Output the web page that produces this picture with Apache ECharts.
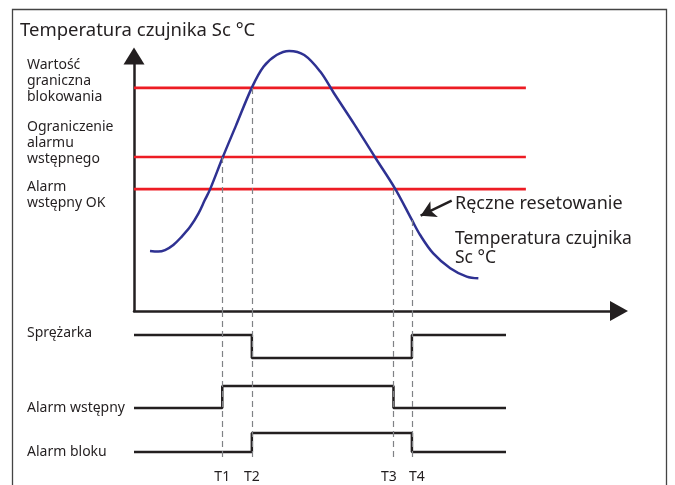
<!DOCTYPE html>
<html>
<head>
<meta charset="utf-8">
<script src="https://cdn.jsdelivr.net/npm/echarts@6/dist/echarts.min.js"></script>
<style>
  html, body { margin: 0; padding: 0; background: #fff; }
  #chart { width: 675px; height: 485px; }
</style>
</head>
<body>
<div id="chart"></div>
<script>
// czas 0..100 (os x), temperatura 0..100 (os y)
var curveTime = [3.3, 5.0, 6.4, 8.1, 9.8, 11.6, 13.3, 14.6, 15.7, 18.3, 21.0, 24.3, 26.7, 29.4, 32.0, 35.1, 38.4, 41.2, 45.4, 49.7, 53.8, 57.3, 59.0, 61.7, 65.2, 68.6, 71.0];
var curveTemp = [23.5, 23.3, 23.9, 25.9, 29.1, 33.1, 38.3, 43.5, 47.8, 60.3, 72.6, 87.6, 95.8, 100.4, 102.0, 100.4, 93.9, 85.5, 73.3, 60.3, 48.1, 35.7, 29.8, 22.6, 16.8, 13.5, 12.8];

var limitNames = ['Wartość\ngraniczna\nblokowania', 'Ograniczenie\nalarmu\nwstępnego', 'Alarm\nwstępny OK'];
var limitTemp = [87.5, 60.4, 47.8];
var limitEnd = 80.8;

var tickLabels = ['T1', 'T2', 'T3', 'T4'];
var tickTimes = [18.2, 24.3, 53.5, 57.3];
var tickFromTemp = [60.4, 87.5, 47.8, 35.7];

var signalNames = ['Sprężarka', 'Alarm wstępny', 'Alarm bloku'];
var signalEdges = [[24.3, 57.3], [18.2, 53.5], [24.3, 57.3]];
var signalStates = [[1, 0, 1], [0, 1, 0], [0, 1, 0]];
var signalLow = [10.2, 5.2, 0.8];
var signalHigh = [12.5, 7.4, 2.7];
var signalEnd = 76.7;

var ink = '#231f20';
var font = '"Noto Sans", sans-serif';

var chart = echarts.init(document.getElementById('chart'));

var curveData = curveTime.map(function (t, i) { return [t, curveTemp[i]]; });

var series = [];

limitTemp.forEach(function (v, i) {
  series.push({
    type: 'line', xAxisIndex: 0, yAxisIndex: 0, silent: true,
    symbol: 'none', data: [[0, v], [limitEnd, v]],
    lineStyle: { color: '#ed1c24', width: 2.6 }, z: 2
  });
});

series.push({
  type: 'line', xAxisIndex: 0, yAxisIndex: 0, silent: true,
  symbol: 'none', smooth: 0.35, clip: false, data: curveData,
  lineStyle: { color: '#2e3192', width: 2.5 }, z: 4,
  markLine: {
    silent: true, symbol: ['none', 'none'],
    lineStyle: { color: '#808285', width: 1.2, type: [6, 4] },
    label: { show: false },
    data: tickTimes.map(function (t, i) {
      return [{ coord: [t, tickFromTemp[i]] }, { coord: [t, 0] }];
    })
  }
});

// strzałka "Ręczne resetowanie"
series.push({
  type: 'line', xAxisIndex: 0, yAxisIndex: 0, silent: true, symbol: 'none', data: [],
  markLine: {
    silent: true, symbol: ['none', 'arrow'], symbolSize: [13, 15],
    lineStyle: { color: ink, width: 2.5, type: 'solid' },
    label: { show: false },
    data: [[{ coord: [65.5, 43.3] }, { coord: [59.1, 37.4] }]]
  }
});

signalNames.forEach(function (name, i) {
  var lvl = function (s) { return s ? signalHigh[i] : signalLow[i]; };
  var st = signalStates[i];
  var ed = signalEdges[i];
  series.push({
    type: 'line', xAxisIndex: 1, yAxisIndex: 1, silent: true, symbol: 'none', step: 'end',
    data: [[0, lvl(st[0])], [ed[0], lvl(st[1])], [ed[1], lvl(st[2])], [signalEnd, lvl(st[2])]],
    lineStyle: { color: ink, width: 2.5 }, z: 3
  });
});

series.push({
  type: 'line', xAxisIndex: 1, yAxisIndex: 1, silent: true, symbol: 'none', data: [],
  markLine: {
    silent: true, symbol: ['none', 'none'],
    lineStyle: { color: '#808285', width: 1.2, type: [6, 4] },
    label: { show: false },
    data: tickTimes.map(function (t) {
      return [{ coord: [t, 14.9] }, { coord: [t, 0] }];
    })
  }
});

var graphics = [
  { type: 'rect', shape: { x: 12.5, y: 9.5, width: 654, height: 500 },
    style: { fill: 'none', stroke: '#444', lineWidth: 1.3 }, z: 10 },
  { type: 'text', x: 20, y: 31, style: { text: 'Temperatura czujnika Sc °C', font: '18.5px ' + font, fill: ink, verticalAlign: 'middle' } },
  { type: 'text', x: 455, y: 204, style: { text: 'Ręczne resetowanie', font: '18px ' + font, fill: ink, verticalAlign: 'middle' } },
  { type: 'text', x: 455, y: 230, style: { text: 'Temperatura czujnika\nSc °C', font: '17.5px ' + font, fill: ink, verticalAlign: 'top', lineHeight: 19 } }
];
var limitTops = [57, 119, 179];
limitNames.forEach(function (n, i) {
  graphics.push({ type: 'text', x: 27, y: limitTops[i], style: { text: n, font: '14px ' + font, fill: ink, verticalAlign: 'top', lineHeight: 16 } });
});
var signalLabelY = [333, 408, 452];
signalNames.forEach(function (n, i) {
  graphics.push({ type: 'text', x: 27, y: signalLabelY[i], style: { text: n, font: '14px ' + font, fill: ink, verticalAlign: 'middle' } });
});

var hiddenAxis = { axisLine: { show: false }, axisTick: { show: false }, axisLabel: { show: false }, splitLine: { show: false } };
var tickRich = ['c', 'c', 'l', 'r'];

var option = {
  backgroundColor: '#fff',
  animation: false,
  grid: [
    { left: 134, top: 56, width: 485, height: 255, outerBoundsMode: 'none' },
    { left: 134, top: 311, width: 485, height: 149, outerBoundsMode: 'none' }
  ],
  xAxis: [
    { type: 'value', gridIndex: 0, min: 0, max: 100,
      axisLine: { show: true, symbol: ['none', 'triangle'], symbolSize: [20, 18], lineStyle: { color: ink, width: 2.5 } },
      axisTick: { show: false }, axisLabel: { show: false }, splitLine: { show: false } },
    Object.assign({ type: 'value', gridIndex: 1, min: 0, max: 100 }, hiddenAxis, {
      axisLabel: { show: true, customValues: tickTimes, margin: 10, color: ink, fontSize: 14, fontFamily: font,
        rich: {
          c: { fontSize: 14, fontFamily: font, color: ink },
          l: { fontSize: 14, fontFamily: font, color: ink, padding: [0, 9, 0, 0] },
          r: { fontSize: 14, fontFamily: font, color: ink, padding: [0, 0, 0, 10] }
        },
        formatter: function (v) { var i = tickTimes.indexOf(v); return i >= 0 ? '{' + tickRich[i] + '|' + tickLabels[i] + '}' : ''; } }
    })
  ],
  yAxis: [
    { type: 'value', gridIndex: 0, min: 0, max: 100,
      axisLine: { show: true, symbol: ['none', 'triangle'], symbolSize: [21, 17], lineStyle: { color: ink, width: 2.5 } },
      axisTick: { show: false }, axisLabel: { show: false }, splitLine: { show: false } },
    Object.assign({ type: 'value', gridIndex: 1, min: 0, max: 14.9 }, hiddenAxis)
  ],
  graphic: graphics,
  series: series
};

chart.setOption(option);
</script>
</body>
</html>
